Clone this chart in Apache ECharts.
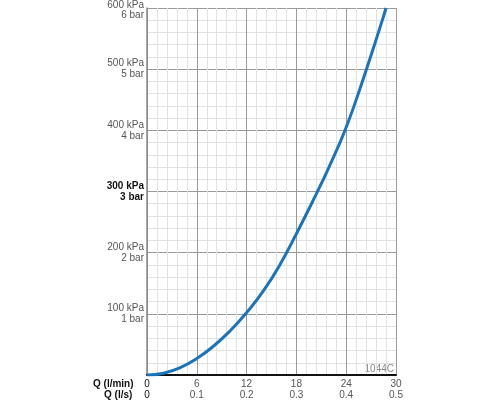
<!DOCTYPE html>
<html><head><meta charset="utf-8">
<script src="https://cdn.jsdelivr.net/npm/echarts@6/dist/echarts.min.js"></script>
<style>html,body{margin:0;padding:0;background:#fff}#c{width:500px;height:400px}</style>
</head><body><div id="c"></div>
<script>
const flowLpm = [0, 2, 4, 6, 8, 10, 12, 14, 16, 18, 20, 22, 24, 26, 28, 28.8];
const pressureKpa = [0, 3, 12, 27, 47, 72, 102, 137, 180, 231, 285, 342, 405, 482, 565, 600];
const xTicksLpm = [0, 6, 12, 18, 24, 30];
const xTicksLps = ['0', '0.1', '0.2', '0.3', '0.4', '0.5'];
const yTicksKpa = [100, 200, 300, 400, 500, 600];
const yTicksBar = ['1', '2', '3', '4', '5', '6'];
const codeLabel = '1044C';

const chart = echarts.init(document.getElementById('c'));
const font = 'Liberation Sans, Arial, sans-serif';
chart.setOption({
  animation: false,
  grid: { left: 147, right: 104, top: 8, bottom: 25, containLabel: false, outerBoundsMode: 'none' },
  xAxis: {
    type: 'value', min: 0, max: 30, interval: 6,
    axisLine: { show: true, lineStyle: { color: '#111', width: 2 } },
    axisTick: { show: false },
    splitLine: { show: true, lineStyle: { color: '#9a9a9a', width: 1 } },
    minorTick: { show: false, splitNumber: 5 },
    minorSplitLine: { show: true, lineStyle: { color: '#e2e2e2', width: 1 } },
    axisLabel: {
      margin: 4, fontFamily: font, fontSize: 10, lineHeight: 11,
      formatter: function (v) {
        const i = xTicksLpm.indexOf(v);
        if (i < 0) return '';
        if (i === 0) return '{k|' + v + '}\n{k|' + xTicksLps[i] + '}';
        return '{g|' + v + '}\n{g|' + xTicksLps[i] + '}';
      },
      rich: {
        k: { color: '#111', fontFamily: font, fontSize: 10, lineHeight: 11 },
        g: { color: '#555', fontFamily: font, fontSize: 10, lineHeight: 11 }
      }
    }
  },
  yAxis: {
    type: 'value', min: 0, max: 600, interval: 100,
    axisLine: { show: true, lineStyle: { color: '#888', width: 1.5 } },
    axisTick: { show: false },
    splitLine: { show: true, lineStyle: { color: '#9a9a9a', width: 1 } },
    minorTick: { show: false, splitNumber: 5 },
    minorSplitLine: { show: true, lineStyle: { color: '#e2e2e2', width: 1 } },
    axisLabel: {
      margin: 3, fontFamily: font, fontSize: 10, lineHeight: 11, align: 'right',
      formatter: function (v) {
        const i = yTicksKpa.indexOf(v);
        if (i < 0) return '';
        if (v === 600) return '{t|' + v + ' kPa}\n{g|' + yTicksBar[i] + ' bar}';
        const s = v === 300 ? 'b' : 'g';
        return '{' + s + '|' + v + ' kPa}\n{' + s + '|' + yTicksBar[i] + ' bar}';
      },
      rich: {
        b: { color: '#111', fontWeight: 'bold', fontFamily: font, fontSize: 10, lineHeight: 11, align: 'right' },
        g: { color: '#555', fontFamily: font, fontSize: 10, lineHeight: 11, align: 'right' },
        t: { color: '#555', fontFamily: font, fontSize: 10, lineHeight: 15, align: 'right', verticalAlign: 'bottom' }
      }
    }
  },
  graphic: [
    { type: 'text', left: 93, top: 379, style: { text: 'Q (l/min)', fill: '#111', font: 'bold 10px ' + font } },
    { type: 'text', left: 104, top: 390, style: { text: 'Q (l/s)', fill: '#111', font: 'bold 10px ' + font } },
    { type: 'text', right: 106, top: 364, style: { text: codeLabel, fill: '#888', font: '10px ' + font } }
  ],
  series: [{
    type: 'line', smooth: true, showSymbol: false, clip: true,
    data: flowLpm.map((q, i) => [q, pressureKpa[i]]),
    lineStyle: { color: '#1a74bb', width: 3 }
  }]
});
</script></body></html>
